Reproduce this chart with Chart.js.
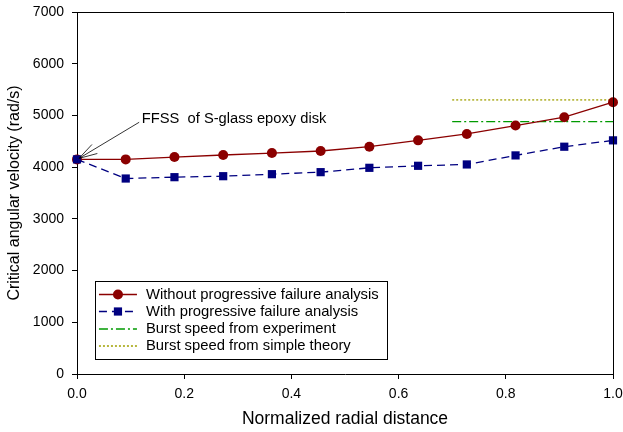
<!DOCTYPE html>
<html>
<head>
<meta charset="utf-8">
<script src="https://cdn.jsdelivr.net/npm/chart.js@4"></script>
<style>
  html, body { margin: 0; padding: 0; background: #fff; }
  #wrap { width: 623px; height: 432px; }
</style>
</head>
<body>
<div id="wrap"><canvas id="c" width="623" height="432"></canvas></div>
<script>
// ---- data ----
const radialPositions = [0, 1/11, 2/11, 3/11, 4/11, 5/11, 6/11, 7/11, 8/11, 9/11, 10/11, 1];
const withoutProgressive = [4150, 4150, 4195, 4235, 4272, 4312, 4395, 4518, 4642, 4804, 4966, 5255];
const withProgressive = [4150, 3780, 3806, 3825, 3864, 3903, 3987, 4026, 4052, 4227, 4395, 4518];
const experimentX = [0.7, 1.0];
const experimentBurst = [4880, 4880];
const theoryX = [0.7, 1.0];
const theoryBurst = [5300, 5300];
const yTicks = [0, 1000, 2000, 3000, 4000, 5000, 6000, 7000];
const xTicks = [0.0, 0.2, 0.4, 0.6, 0.8, 1.0];
const seriesNames = [
  'Without progressive failure analysis',
  'With progressive failure analysis',
  'Burst speed from experiment',
  'Burst speed from simple theory'
];
const annotationText = 'FFSS  of S-glass epoxy disk';

const FONT = "'Liberation Sans', Arial, sans-serif";
const toXY = (xs, ys) => xs.map((x, i) => ({ x: x, y: ys[i] }));

const datasets = [
  {
    label: seriesNames[0], data: toXY(radialPositions, withoutProgressive),
    borderColor: '#8b0000', backgroundColor: '#8b0000', borderWidth: 1.3,
    pointStyle: 'circle', pointRadius: 5, pointBorderWidth: 0, clip: false, order: 2
  },
  {
    label: seriesNames[1], data: toXY(radialPositions, withProgressive),
    borderColor: '#000080', backgroundColor: '#000080', borderWidth: 1.3, borderDash: [8, 5],
    pointStyle: 'rect', pointRadius: 5.8, pointBorderWidth: 0, clip: false, order: 1
  },
  {
    label: seriesNames[2], data: toXY(experimentX, experimentBurst),
    borderColor: '#009a00', backgroundColor: '#009a00', borderWidth: 1.3, borderDash: [9, 3, 2, 3],
    pointRadius: 0, clip: false, order: 3
  },
  {
    label: seriesNames[3], data: toXY(theoryX, theoryBurst),
    borderColor: '#a0a000', backgroundColor: '#a0a000', borderWidth: 1.3, borderDash: [2, 2],
    pointRadius: 0, clip: false, order: 4
  }
];

const framePlugin = {
  id: 'frame',
  afterDraw(chart) {
    const { ctx, chartArea: a, scales: { x, y } } = chart;
    ctx.save();
    // frame (top/right)
    ctx.strokeStyle = '#000';
    ctx.lineWidth = 1;
    ctx.beginPath();
    ctx.moveTo(a.left, a.top + 0.5);
    ctx.lineTo(a.right + 0.5, a.top + 0.5);
    ctx.lineTo(a.right + 0.5, a.bottom);
    ctx.stroke();

    // annotation
    const tx = x.getPixelForValue(0.121), ty = y.getPixelForValue(4860);
    ctx.fillStyle = '#000';
    ctx.font = '14.7px ' + FONT;
    ctx.textBaseline = 'alphabetic';
    ctx.textAlign = 'left';
    ctx.fillText(annotationText, tx, ty);

    const hx = x.getPixelForValue(0) + 2, hy = y.getPixelForValue(4150) - 1;
    const sx = x.getPixelForValue(0.116), sy = y.getPixelForValue(4868);
    ctx.lineWidth = 0.8;
    ctx.beginPath();
    ctx.moveTo(sx, sy);
    ctx.lineTo(hx, hy);
    const ang = Math.atan2(sy - hy, sx - hx);
    const L = 19, spread = 0.28;
    ctx.moveTo(hx + L * Math.cos(ang - spread), hy + L * Math.sin(ang - spread));
    ctx.lineTo(hx, hy);
    ctx.lineTo(hx + L * Math.cos(ang + spread), hy + L * Math.sin(ang + spread));
    ctx.stroke();

    // legend box
    const bx = x.getPixelForValue(0.0335), bw = 292;
    const by = 281, bh = 78;
    ctx.fillStyle = '#fff';
    ctx.fillRect(bx, by, bw, bh);
    ctx.lineWidth = 1;
    ctx.strokeStyle = '#000';
    ctx.strokeRect(Math.round(bx) + 0.5, by + 0.5, bw, bh);
    const rowY = [294.5, 311.5, 329, 346];
    chart.data.datasets.forEach((ds, i) => {
      const yy = rowY[i];
      const x0 = bx + 4, x1 = bx + 42;
      ctx.save();
      ctx.strokeStyle = ds.borderColor;
      ctx.lineWidth = ds.borderWidth;
      ctx.setLineDash(ds.borderDash || []);
      ctx.beginPath();
      ctx.moveTo(x0, yy);
      ctx.lineTo(x1, yy);
      ctx.stroke();
      ctx.setLineDash([]);
      ctx.fillStyle = ds.backgroundColor;
      const mx = (x0 + x1) / 2;
      if (ds.pointRadius > 0) {
        if (ds.pointStyle === 'circle') {
          ctx.beginPath();
          ctx.arc(mx, yy, ds.pointRadius, 0, Math.PI * 2);
          ctx.fill();
        } else {
          const s = ds.pointRadius * 1.414;
          ctx.fillRect(mx - s / 2, yy - s / 2, s, s);
        }
      }
      ctx.restore();
      ctx.fillStyle = '#000';
      ctx.font = '14.8px ' + FONT;
      ctx.textBaseline = 'middle';
      ctx.textAlign = 'left';
      ctx.fillText(ds.label, bx + 51, yy);
    });
    ctx.restore();
  }
};

new Chart(document.getElementById('c'), {
  type: 'line',
  data: { datasets: datasets },
  options: {
    responsive: false,
    animation: false,
    devicePixelRatio: 1,
    layout: { padding: { left: 0, top: 12, right: 10, bottom: 0 } },
    plugins: { legend: { display: false }, tooltip: { enabled: false } },
    scales: {
      x: {
        type: 'linear', min: 0, max: 1,
        afterBuildTicks: (s) => { s.ticks = xTicks.map(v => ({ value: v })); },
        afterFit: (s) => { s.height = 58; s.paddingLeft = 0; s.paddingRight = 0; },
        ticks: { color: '#000', font: { family: FONT, size: 14 }, padding: 7,
                 callback: (v) => Number(v).toFixed(1), maxRotation: 0, autoSkip: false },
        grid: { drawOnChartArea: false, drawTicks: true, tickLength: 5, color: '#000' },
        border: { display: true, color: '#000', width: 1 },
        title: { display: true, text: 'Normalized radial distance', color: '#000',
                 font: { family: FONT, size: 17.5 }, padding: { top: 0, bottom: 2 } }
      },
      y: {
        type: 'linear', min: 0, max: 7000,
        afterBuildTicks: (s) => { s.ticks = yTicks.map(v => ({ value: v })); },
        afterFit: (s) => { s.width = 77; s.paddingTop = 0; s.paddingBottom = 0; },
        ticks: { color: '#000', font: { family: FONT, size: 14 }, padding: 8, autoSkip: false,
                 callback: (v) => String(v) },
        grid: { drawOnChartArea: false, drawTicks: true, tickLength: 5, color: '#000' },
        border: { display: true, color: '#000', width: 1 },
        title: { display: true, text: 'Critical angular velocity (rad/s)', color: '#000',
                 font: { family: FONT, size: 16 }, padding: { top: 5, bottom: 0 } }
      }
    }
  },
  plugins: [framePlugin]
});
</script>
</body>
</html>
